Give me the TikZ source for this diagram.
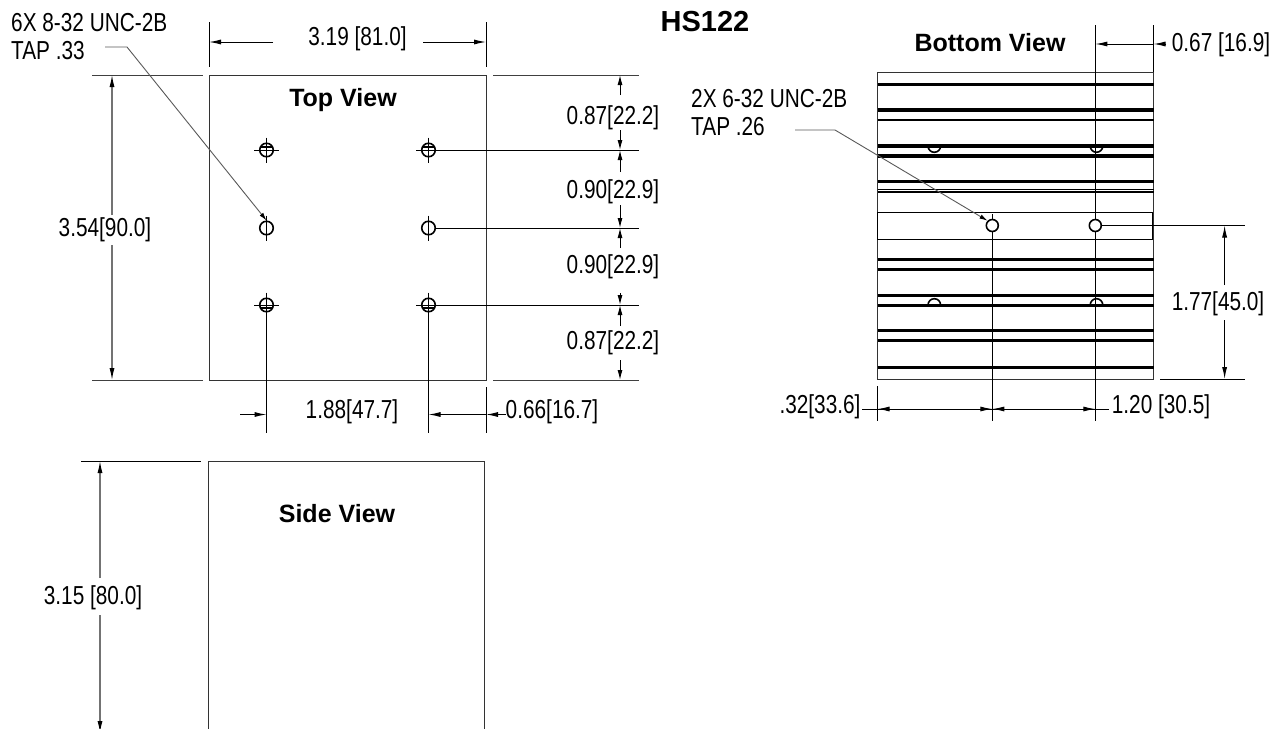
\documentclass[tikz,border=0pt]{standalone}
\usepackage{fontspec}
\setmainfont{Liberation Sans}
\newfontfamily\dimfont[FakeStretch=0.8]{Liberation Sans}
\usetikzlibrary{arrows.meta}
\tikzset{
	dim/.style={font=\dimfont\fontsize{26}{28}\selectfont,inner sep=0pt,align=left,yshift=-2pt},
	viewname/.style={font=\bfseries\fontsize{25}{28}\selectfont,inner sep=0pt},
	hole/.style={circle,draw,line width=1.6pt,minimum size=13.5pt,inner sep=0pt},
	edge/.style={line width=1pt,black!80},
	tick/.style={line width=1pt},
	arr/.style={line width=1pt,-{Latex[length=12pt,width=5pt]}},
	arrsmall/.style={line width=1pt,-{Latex[length=10pt,width=5pt]}},
	arrgray/.style={line width=1.1pt,black!55,-{Latex[length=12pt,width=5pt,black]}},
	leader/.style={line width=.9pt,black!65,-{Latex[length=8pt,width=4.5pt,black]}}
}
\begin{document}
\begin{tikzpicture}[x=1pt,y=-1pt,declare function={ty=75;by=380;lx=209;rx=486;bl=877.5;br=1153.5;}]
	\useasboundingbox (0,0) rectangle (1273,728);
	\clip (0,0) rectangle (1273,728);
	\node[viewname,font=\bfseries\fontsize{29}{30}\selectfont] (title) at (705,22) {HS122};
	% top view
	\draw[edge] (lx,ty) rectangle (rx,by);
	\node[viewname] (topname) at (343,100) {Top View};
	\foreach \r/\y in {a/150,b/228,c/305}{
		\node[hole] (l\r) at (266.5,\y) {};
		\node[hole] (r\r) at (428.5,\y) {};
		\coordinate (e\r) at (639,\y);
		\draw[tick] (r\r.center)++(0,-12.5) -- ++(0,25);
		\draw[tick] (l\r.center)++(0,-12.5) -- ++(0,25);
		\draw[tick] (r\r.east) -- (e\r);
	}
	\foreach \h in {la,ra,lc,rc}\draw[tick] (\h.center)++(-12.5,0) -- ++(25,0);
	\foreach \h in {la,ra}\draw[line width=1.6pt] (\h.center)++(-5.5,-3) -- ++(11,0);
	\foreach \h in {lc,rc}\draw[line width=1.6pt] (\h.center)++(-5.5,3) -- ++(11,0);
	\foreach \y in {ty,by}{
		\draw[tick,black!75] (92,\y) -- (203,\y);
		\draw[tick,black!75] (493,\y) -- (639,\y);
	}
	\draw[tick] (lx,22) -- (lx,67);
	\draw[tick] (rx,22) -- (rx,67);
	\node[dim] (w319) at (357.5,37) {3.19 [81.0]};
	\draw[arr] (273,42) -- (lx,42);
	\draw[arr] (423,42) -- (rx,42);
	\node[dim] (h354) at (105,228) {3.54[90.0]};
	\draw[arrgray] (112,215) -- (112,ty);
	\draw[arrgray] (112,245) -- (112,by);
	\node[dim] (ha) at (613,116) {0.87[22.2]};
	\node[dim] (hb) at (613,190) {0.90[22.9]};
	\node[dim] (hc) at (613,265) {0.90[22.9]};
	\node[dim] (hd) at (613,341) {0.87[22.2]};
	\foreach \f/\t in {95/75,130/150,172/150,205/228,248/228,293/305,326/305,360/380}
		\draw[arrsmall] (620,\f) -- (620,\t);
	% bottom dimensions of top view
	\draw[tick] (lc.center) -- (266.5,433);
	\draw[tick] (rc.center) -- (428.5,433);
	\draw[tick] (rx,387) -- (rx,433);
	\node[dim] (w188) at (352,410) {1.88[47.7]};
	\node[dim] (w066) at (552,410) {0.66[16.7]};
	\draw[arr] (240,414.5) -- (266.5,414.5);
	\draw[arr] (rx,414.5) -- (428.5,414.5);
	\draw[arr] (w066.west|-0,414.5) -- (rx,414.5);
	\node[dim,anchor=north west] (note1) at (11,11) {6X 8-32 UNC-2B\\TAP .33};
	\draw[leader] (105,47) -- (127,47) -- (lb.north);
	% bottom view
	\draw[edge] (bl,72.5) rectangle (br,379);
	\foreach \y/\w in {84.3/3.2,110/3.2,120/2.4,146/3.2,156/3.2,181.7/3.2,192/2.4,259.7/2.8,269.3/3.4,295.7/2.8,305.3/3.4,330.5/2.2,340.7/3,367.3/3}
		\draw[line width=\w pt] (bl,\y) -- (br,\y);
	\draw[tick] (bl,189.5) -- (br,189.5);
	\draw[tick] (bl,212.3) rectangle (br-.7,239);
	\foreach \x in {934.3,1096.5}{
		\draw[line width=1.6pt] (\x-6.3,146) arc (180:0:6.3);
		\draw[line width=1.6pt] (\x-6.3,305) arc (-180:0:6.3);
	}
	\node[viewname] (botname) at (990,43) {Bottom View};
	\node[hole,minimum size=12pt] (ba) at (992.3,225.5) {};
	\node[hole,minimum size=12pt] (bb) at (1095.3,225.5) {};
	\draw[tick] (1095.3,25) -- (bb.north);
	\draw[tick] (bb.south) -- (1095.3,421);
	\draw[tick] (992.3,214) -- (ba.north);
	\draw[tick] (ba.south) -- (992.3,421);
	\draw[tick] (br,25) -- (br,72);
	\draw[tick] (bl,386) -- (bl,421);
	\draw[tick] (bb.east) -- (1245,225.5);
	\draw[tick] (1160,379) -- (1245,379);
	\node[dim] (w067) at (1221,43) {0.67 [16.9]};
	\draw[arr] (br,44) -- (1095.3,44);
	\draw[arr] (1166,44) -- (br,44);
	\node[dim] (h177) at (1218,302) {1.77[45.0]};
	\draw[arr] (1224.6,285) -- (1224.6,225.5);
	\draw[arr] (1224.6,320) -- (1224.6,379);
	\node[dim] (w032) at (820,405) {.32[33.6]};
	\node[dim] (w120) at (1161,405) {1.20 [30.5]};
	\draw[tick] (862,409) -- (bl,409);
	\draw[arr] (992.3,409) -- (bl,409);
	\draw[arr] (bl,409) -- (992.3,409);
	\draw[arr] (1095.3,409) -- (992.3,409);
	\draw[arr] (992.3,409) -- (1095.3,409);
	\draw[tick] (1095.3,409) -- (1109,409);
	\node[dim,anchor=north west] (note2) at (691,87) {2X 6-32 UNC-2B\\TAP .26};
	\draw[leader] (795,130) -- (835,130) -- (ba.north west);
	% side view
	\draw[edge] (208,732) -- (208,461) -- (484,461) -- (484,732);
	\draw[tick] (81,461) -- (201,461);
	\node[viewname] (sidename) at (337,514) {Side View};
	\node[dim] (h315) at (93,596) {3.15 [80.0]};
	\draw[arrgray] (100,578) -- (100,461);
	\draw[arrgray] (100,615) -- (100,733);
\end{tikzpicture}
\end{document}
